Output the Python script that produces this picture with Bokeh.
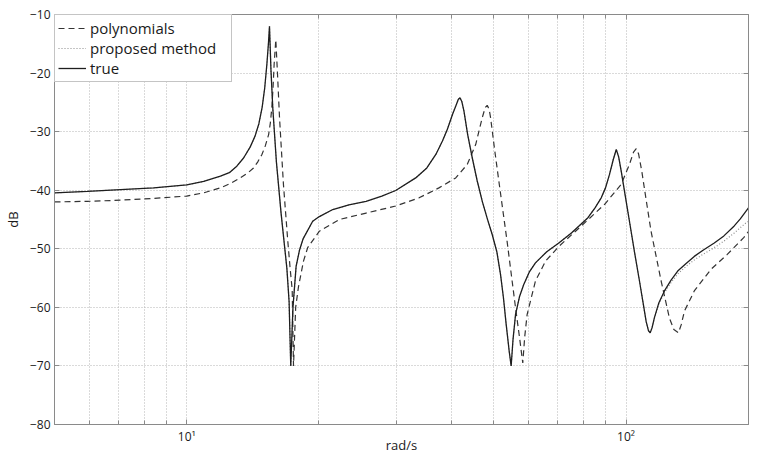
from bokeh.plotting import figure
from bokeh.models import Range1d, FixedTicker, Legend, LegendItem, LogAxis, LinearAxis
from bokeh.embed import file_html
from bokeh.resources import INLINE

# ---- data (rad/s, dB) ----
freq_true = [5.0, 5.94, 7.07, 8.41, 10.0, 10.93, 11.93, 12.5, 13.0, 13.47, 13.95, 14.3, 14.6, 14.85, 15.05,
             15.22, 15.35, 15.43,
             15.55, 15.7, 16.0, 16.4, 16.9, 17.1, 17.25, 17.45, 17.74, 18.05, 18.4, 19.35, 20.04, 21.5,
             23.4, 25.6, 27.8, 29.9, 33.2, 35.2, 36.9, 38.2, 39.2, 40.3, 40.95, 41.5, 41.88, 42.3, 42.76,
             43.6, 44.67, 45.8, 47.07, 48.3, 49.6, 50.8, 51.8, 52.6, 53.35, 54.2, 54.76, 55.3, 56.04,
             57.2, 58.5, 60.2, 62.2, 66.0, 70.3, 75.1, 81.9, 85.0, 87.8, 89.8, 91.7, 93.5, 95.0, 96.2,
             97.5, 99.5, 101.8, 104.5, 107.3, 109.5, 111.1, 112.5, 113.5, 114.6, 116.0, 118.8, 122.3,
             126.5, 131.1, 137.0, 143.0, 150.0, 158.8, 167.0, 176.3, 182.0, 187.4, 190.5, 193.0, 195.0,
             196.8]
db_true = [-40.45, -40.2, -39.9, -39.6, -39.1, -38.5, -37.6, -37.0, -35.9, -34.5, -32.6, -30.8, -28.6, -25.8, -22.5,
           -18.5, -14.8, -12.0,
           -19.5, -26.0, -35.2, -44.0, -53.3, -59.0, -70.0, -60.0, -53.0, -50.3, -48.3, -45.3, -44.5, -43.3,
           -42.5, -41.9, -41.0, -40.05, -37.9, -36.2, -33.9, -31.6, -29.6, -27.0, -25.65, -24.5, -24.2, -24.9, -26.5,
           -30.5, -34.5, -38.3, -41.9, -44.8, -47.6, -50.5, -54.4, -58.4, -62.9, -67.5, -70.0, -65.5, -61.2,
           -58.2, -56.1, -54.0, -52.4, -50.5, -49.0, -47.3, -44.7, -43.0, -41.3, -39.6, -37.3, -34.8, -33.05, -34.3,
           -36.75, -40.8, -45.3, -50.5, -55.5, -59.5, -62.4, -64.0, -64.35, -63.5, -61.8, -59.2, -57.2,
           -55.4, -53.8, -52.5, -51.3, -50.2, -49.0, -47.8, -46.1, -44.9, -43.6, -42.9, -42.6, -42.9,
           -43.6]

freq_poly = [5.0, 5.94, 7.07, 8.41, 10.0, 10.93, 11.93, 12.57, 13.24, 13.8, 14.19, 14.5, 14.83, 15.1, 15.36,
             15.5, 15.62, 15.72, 15.81,
             15.95, 16.1, 16.26, 16.6, 16.98, 17.2, 17.38, 17.5, 17.7, 17.96, 18.44, 18.85, 20.04, 22.25,
             25.6, 29.9, 33.8, 37.5, 40.95, 43.5, 45.47, 47.07, 47.8, 48.3, 48.8, 49.16, 50.2, 51.35,
             53.6, 56.04, 57.3, 58.2, 58.8, 59.55, 62.2, 65.6, 70.3, 79.1, 89.4, 97.5, 101.8, 104.0,
             105.5, 106.8, 108.6, 111.3, 114.0, 120.2, 125.5, 128.5, 131.6, 133.5, 135.8, 143.0, 156.1,
             169.8, 185.3, 196.8]
db_poly = [-42.0, -41.9, -41.7, -41.4, -41.0, -40.45, -39.6, -38.85, -37.9, -37.0, -36.2, -35.2, -33.9, -32.4, -30.5,
           -28.5, -25.9, -22.5, -18.5,
           -14.3, -20.5, -27.5, -39.0, -48.6, -53.5, -57.0, -70.0, -60.0, -56.5, -52.1, -49.8, -47.0, -45.0,
           -43.9, -42.7, -41.3, -39.6, -37.9, -35.6, -32.2, -27.6, -25.9, -25.5, -26.2, -27.6, -33.0, -38.5,
           -48.7, -60.1, -65.5, -69.5, -65.0, -61.2, -55.5, -52.1, -49.6, -46.1, -42.4, -39.0, -35.6, -33.5,
           -32.9, -33.8, -36.75, -42.0, -47.0, -55.5, -61.8, -63.8, -64.35, -63.0, -60.65, -57.2, -53.5,
           -51.0, -48.1, -45.6]

freq_prop = [5.0, 5.94, 7.07, 8.41, 10.0, 10.93, 11.93, 12.5, 13.0, 13.47, 13.95, 14.3, 14.6, 14.85, 15.05,
             15.22, 15.35, 15.43,
             15.55, 15.7, 16.0, 16.4, 16.9, 17.1, 17.25, 17.45, 17.74, 18.05, 18.4, 19.35, 20.04, 21.5,
             23.4, 25.6, 27.8, 29.9, 33.2, 35.2, 36.9, 38.2, 39.2, 40.3, 40.95, 41.5, 41.88, 42.3, 42.76,
             43.6, 44.67, 45.8, 47.07, 48.3, 49.6, 50.8, 51.8, 52.6, 53.35, 54.2, 54.76, 55.3, 56.04,
             57.2, 58.5, 60.2, 62.2, 66.0, 70.3, 75.1, 81.9, 85.0, 87.8, 89.8, 91.7, 93.5, 95.0, 96.2,
             97.5, 99.5, 101.8, 104.5, 107.3, 109.5, 111.1, 112.5, 113.5, 114.6, 116.0, 118.8, 122.3,
             126.5, 131.1, 137.0, 143.0, 150.0, 158.8, 167.0, 176.3, 182.0, 187.4, 193.0, 196.8]
db_prop = [-40.45, -40.2, -39.9, -39.6, -39.1, -38.5, -37.6, -37.0, -35.9, -34.5, -32.6, -30.8, -28.6, -25.8, -22.5,
           -18.5, -14.8, -12.0,
           -19.5, -26.0, -35.2, -44.0, -53.3, -59.0, -70.0, -60.0, -53.0, -50.3, -48.3, -45.3, -44.5, -43.3,
           -42.5, -41.9, -41.0, -40.05, -37.9, -36.2, -33.9, -31.6, -29.6, -27.0, -25.65, -24.5, -24.2, -24.9, -26.5,
           -30.5, -34.5, -38.3, -41.9, -44.8, -47.6, -50.5, -54.4, -58.4, -62.9, -67.5, -70.0, -65.5, -61.2,
           -58.2, -56.1, -54.0, -52.4, -50.5, -49.0, -47.3, -44.7, -43.0, -41.3, -39.6, -37.3, -34.8, -33.05, -34.3,
           -36.75, -40.8, -45.3, -50.5, -55.5, -59.5, -62.4, -64.0, -64.35, -63.5, -61.9, -59.4, -57.5,
           -55.8, -54.3, -53.0, -51.9, -50.9, -49.8, -48.7, -47.3, -46.4, -45.6, -45.0, -44.7]

series_labels = ["polynomials", "proposed method", "true"]

x_major_ticks = [10, 100]
x_major_labels = ["10¹", "10²"]
x_minor_ticks = [6, 7, 8, 9, 20, 30, 40, 50, 60, 70, 80, 90]
y_ticks = [-80, -70, -60, -50, -40, -30, -20, -10]
y_labels = ["−80", "−70", "−60", "−50", "−40", "−30", "−20", "−10"]
x_title, y_title = "rad/s", "dB"

FONT = "Open Sans"
AX = "#8a8a8a"
GRID = "#b4b4b4"
TXT = "#1a1a1a"

p = figure(width=749, height=456, x_axis_type="log",
           x_range=Range1d(5, 190), y_range=Range1d(-80, -10),
           output_backend="svg", toolbar_location=None,
           min_border_left=54, min_border_right=1, min_border_top=14, min_border_bottom=32,
           background_fill_color="white", border_fill_color="white")
p.outline_line_color = AX
p.outline_line_width = 1


def style_axis(ax):
    ax.axis_line_color = AX
    ax.major_tick_line_color = AX
    ax.minor_tick_line_color = AX
    ax.major_tick_in = 5
    ax.major_tick_out = 0
    ax.minor_tick_in = 4
    ax.minor_tick_out = 0
    ax.major_label_text_font = FONT
    ax.major_label_text_font_size = "12px"
    ax.major_label_text_color = TXT
    ax.axis_label_text_font = FONT
    ax.axis_label_text_font_size = "13px"
    ax.axis_label_text_font_style = "normal"
    ax.axis_label_text_color = TXT


xt = FixedTicker(ticks=x_major_ticks, minor_ticks=x_minor_ticks)
yt = FixedTicker(ticks=y_ticks)

xa = p.xaxis[0]
xa.ticker = xt
xa.major_label_overrides = dict(zip(x_major_ticks, x_major_labels))
style_axis(xa)
xa.axis_label = x_title
xa.major_label_standoff = 3
xa.axis_label_standoff = -12

ya = p.yaxis[0]
ya.ticker = yt
ya.major_label_overrides = dict(zip(y_ticks, y_labels))
style_axis(ya)
ya.axis_label = y_title
ya.major_label_standoff = 4
ya.axis_label_standoff = 5

# box ticks on the top and right edges (no labels)
top_ax = LogAxis(ticker=xt)
style_axis(top_ax)
top_ax.major_label_overrides = {t: "" for t in x_major_ticks}
top_ax.major_label_text_font_size = "1px"
top_ax.major_label_standoff = 0
p.add_layout(top_ax, "above")

right_ax = LinearAxis(ticker=yt)
style_axis(right_ax)
right_ax.major_label_overrides = {t: "" for t in y_ticks}
right_ax.major_label_text_font_size = "1px"
right_ax.major_label_standoff = 0
p.add_layout(right_ax, "right")

for g in (p.xgrid[0], p.ygrid[0]):
    g.grid_line_color = GRID
    g.grid_line_dash = "1 2"
    g.grid_line_width = 1
p.xgrid[0].ticker = xt
p.xgrid[0].minor_grid_line_color = GRID
p.xgrid[0].minor_grid_line_dash = "1 2"
p.ygrid[0].ticker = yt

r_poly = p.line(freq_poly, db_poly, line_color="#333333", line_width=1.2, line_dash="6 4")
r_prop = p.line(freq_prop, db_prop, line_color="#8c8c8c", line_width=1.2, line_dash="1 2")
r_true = p.line(freq_true, db_true, line_color="#1e1e1e", line_width=1.3)

legend = Legend(items=[LegendItem(label=series_labels[0], renderers=[r_poly]),
                       LegendItem(label=series_labels[1], renderers=[r_prop]),
                       LegendItem(label=series_labels[2], renderers=[r_true])],
                location="top_left")
legend.margin = 0
legend.padding = 3
legend.spacing = 0
legend.label_height = 20
legend.glyph_height = 20
legend.glyph_width = 28
legend.label_width = 138
legend.label_standoff = 4
legend.label_text_font = FONT
legend.label_text_font_size = "15px"
legend.label_text_color = TXT
legend.border_line_color = AX
legend.border_line_width = 1
legend.background_fill_color = "white"
legend.background_fill_alpha = 1.0
p.add_layout(legend)

open("out.html", "w").write(file_html(p, INLINE))
